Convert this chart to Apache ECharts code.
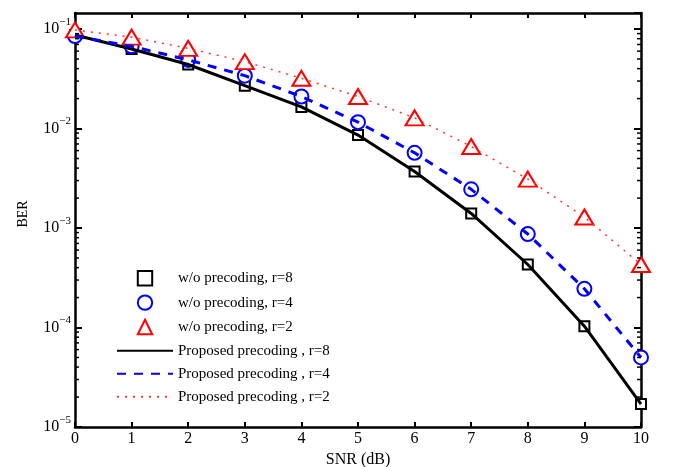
<!DOCTYPE html>
<html>
<head>
<meta charset="UTF-8">
<title>BER vs SNR</title>
<script src="https://cdn.jsdelivr.net/npm/echarts@6/dist/echarts.min.js"></script>
</head>
<body style="margin:0">
	<div id="main" style="width: 674px;height:467px;"></div>
	<script type="text/javascript">
	// SNR points (dB)
	var snr = [0, 1, 2, 3, 4, 5, 6, 7, 8, 9, 10];
	// w/o precoding (markers)
	var woR8 = [0.087, 0.063, 0.044, 0.027, 0.0165, 0.0086, 0.0037, 0.0014, 0.00043, 0.000103, 0.000017];
	var woR4 = [0.085, 0.067, 0.049, 0.034, 0.021, 0.0116, 0.0057, 0.00245, 0.00087, 0.000245, 0.00005];
	var woR2 = [0.098, 0.083, 0.064, 0.047, 0.032, 0.021, 0.0128, 0.0066, 0.0031, 0.00129, 0.00043];
	// proposed precoding (lines)
	var prR8 = [0.087, 0.063, 0.044, 0.027, 0.0165, 0.0086, 0.0037, 0.0014, 0.00043, 0.000103, 0.000017];
	var prR4 = [0.085, 0.067, 0.049, 0.034, 0.021, 0.0116, 0.0057, 0.00245, 0.00087, 0.000245, 0.00005];
	var prR2 = [0.098, 0.083, 0.064, 0.047, 0.032, 0.021, 0.0128, 0.0066, 0.0031, 0.00129, 0.00043];
	var names = ['w/o precoding, r=8', 'w/o precoding, r=4', 'w/o precoding, r=2',
		'Proposed precoding , r=8', 'Proposed precoding , r=4', 'Proposed precoding , r=2'];

	// log minor ticks 2..9 x 10^k
	var minorTicks = [];
	for (var k = -5; k <= -2; k++) {
		for (var m = 2; m <= 9; m++) minorTicks.push([0, m * Math.pow(10, k)]);
	}

	function pairs(ys) {
		return ys.map(function (y, i) { return [snr[i], y]; });
	}

	var FONT = 'Liberation Serif';
	var chartDom = document.getElementById('main');
	var myChart = echarts.init(chartDom);

	function markerSeries(name, data, symbol, size, color) {
		return {
			name: name, type: 'line', data: pairs(data),
			symbol: symbol, symbolSize: size, showSymbol: true,
			lineStyle: { opacity: 0 },
			itemStyle: { color: color, borderColor: color, borderWidth: 2.8 },
			z: 2, animation: false
		};
	}
	function lineSeries(name, data, color, width, type) {
		return {
			name: name, type: 'line', data: pairs(data),
			symbol: 'none',
			lineStyle: { color: color, width: width, type: type },
			itemStyle: { color: color },
			z: 3, animation: false
		};
	}

	var axisLineStyle = { show: true, onZero: false, lineStyle: { color: '#000', width: 2.5 } };

	myChart.setOption({
		animation: false,
		textStyle: { fontFamily: FONT, color: '#000' },
		grid: { left: 75, right: 33, top: 13, bottom: 40, containLabel: false, outerBoundsMode: 'none' },
		legend: {
			orient: 'vertical',
			left: 111, top: 265,
			itemWidth: 56, itemHeight: 18, itemGap: 8,
			textStyle: { fontFamily: FONT, fontSize: 15, color: '#000' },
			data: [
				{ name: names[0], lineStyle: { opacity: 0 } },
				{ name: names[1], lineStyle: { opacity: 0 } },
				{ name: names[2], lineStyle: { opacity: 0 } },
				{ name: names[3], itemStyle: { opacity: 0 } },
				{ name: names[4], itemStyle: { opacity: 0 } },
				{ name: names[5], itemStyle: { opacity: 0 } }
			]
		},
		xAxis: [{
			type: 'value', min: 0, max: 10, interval: 1,
			name: 'SNR (dB)', nameLocation: 'middle', nameGap: 22,
			nameTextStyle: { fontFamily: FONT, fontSize: 16, color: '#000' },
			axisLine: axisLineStyle,
			axisTick: { show: true, inside: true, length: 5, lineStyle: { color: '#000', width: 2 } },
			axisLabel: { fontFamily: FONT, fontSize: 16, color: '#000', margin: 4 },
			splitLine: { show: false }
		}, {
			type: 'value', min: 0, max: 10, interval: 1, position: 'top',
			axisLine: axisLineStyle,
			axisTick: { show: true, inside: true, length: 5, lineStyle: { color: '#000', width: 2 } },
			axisLabel: { show: false },
			splitLine: { show: false }
		}],
		yAxis: [{
			type: 'log', logBase: 10, min: 1e-5, max: 0.145,
			name: 'BER', nameLocation: 'middle', nameGap: 45,
			nameTextStyle: { fontFamily: FONT, fontSize: 14, color: '#000', padding: [0, 0, 0, 12] },
			axisLine: axisLineStyle,
			axisTick: { show: true, inside: true, length: 7, lineStyle: { color: '#000', width: 2 } },
			axisLabel: {
				showMaxLabel: false, margin: 4,
				formatter: function (v) {
					var e = Math.round(Math.log10(v));
					return '{b|10}{s|\u2212' + (-e) + '}';
				},
				rich: {
					b: { fontFamily: FONT, fontSize: 16, color: '#000' },
					s: { fontFamily: FONT, fontSize: 11, color: '#000', padding: [0, 0, 14, 0] }
				}
			},
			splitLine: { show: false }
		}, {
			type: 'log', logBase: 10, min: 1e-5, max: 0.145, position: 'right',
			axisLine: axisLineStyle,
			axisTick: { show: true, inside: true, length: 7, lineStyle: { color: '#000', width: 2 } },
			axisLabel: { show: false },
			splitLine: { show: false }
		}],
		series: [
			markerSeries(names[0], woR8, 'emptyRect', 10, '#000000'),
			markerSeries(names[1], woR4, 'emptyCircle', 14, '#0000ff'),
			markerSeries(names[2], woR2, 'emptyTriangle', [18, 15], '#ff0000'),
			lineSeries(names[3], prR8, '#000000', 3, 'solid'),
			lineSeries(names[4], prR4, '#0000ff', 3, [9, 8]),
			lineSeries(names[5], prR2, '#ff3333', 1.5, [2, 6]),
			{
				type: 'custom', data: minorTicks, silent: true, z: 5,
				yAxisIndex: 1, xAxisIndex: 1,
				encode: { x: 0, y: 1 },
				renderItem: function (params, api) {
					var v = api.value(1);
					var l = api.coord([0, v]);
					var r = api.coord([10, v]);
					return {
						type: 'group', children: [
							{ type: 'line', shape: { x1: l[0], y1: l[1], x2: l[0] + 4, y2: l[1] }, style: { stroke: '#000', lineWidth: 1.5 } },
							{ type: 'line', shape: { x1: r[0] - 4, y1: r[1], x2: r[0], y2: r[1] }, style: { stroke: '#000', lineWidth: 1.5 } }
						]
					};
				}
			}
		]
	});
	</script>
</body>
</html>
